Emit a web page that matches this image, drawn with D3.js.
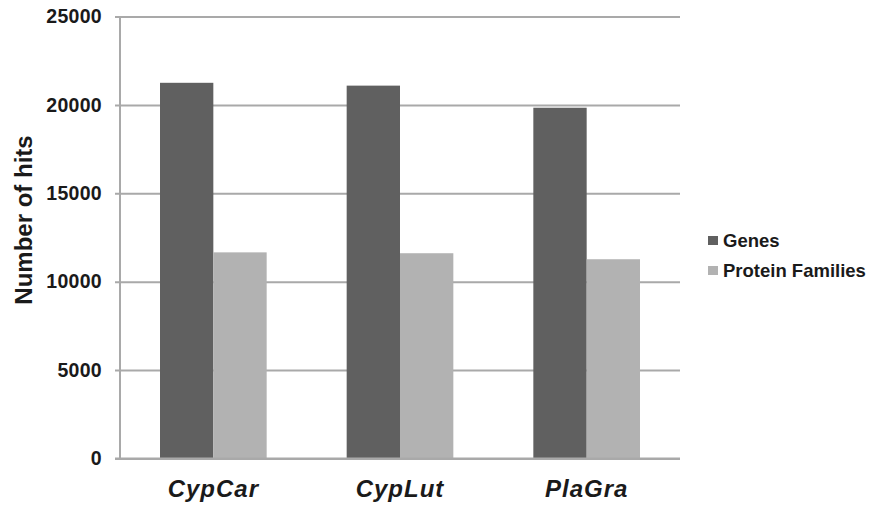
<!DOCTYPE html>
<html>
<head>
<meta charset="utf-8">
<script src="https://cdn.jsdelivr.net/npm/d3@7"></script>
<style>
  html, body { margin: 0; padding: 0; background: #ffffff; }
  svg { display: block; font-family: "Liberation Sans", Arial, sans-serif; }
</style>
</head>
<body>
<svg id="chart" width="872" height="511"></svg>
<script>
// Hit counts per genome
const categories = ["CypCar", "CypLut", "PlaGra"];
const seriesNames = ["Genes", "Protein Families"];
const genes = [21250, 21090, 19840];
const proteinFamilies = [11660, 11610, 11270];
const yTicks = [0, 5000, 10000, 15000, 20000, 25000];
const seriesColors = ["#606060", "#b2b2b2"];

const svg = d3.select("#chart");
const plot = { left: 120, right: 680, top: 16.5, bottom: 458.5 };

const x0 = d3.scaleBand()
  .domain(categories)
  .range([plot.left, plot.right])
  .paddingInner(0)
  .paddingOuter(0);

const x1 = d3.scaleBand()
  .domain(seriesNames)
  .range([0, x0.bandwidth()])
  .paddingInner(0)
  .paddingOuter(0.75);

const y = d3.scaleLinear()
  .domain([0, 25000])
  .range([plot.bottom, plot.top]);

// Horizontal gridlines and tick labels
const yAxis = d3.axisLeft(y)
  .tickValues(yTicks)
  .tickSize(-(plot.right - plot.left))
  .tickPadding(18)
  .tickFormat(d3.format("d"));

const gAxis = svg.append("g")
  .attr("transform", `translate(${plot.left},0)`)
  .call(yAxis);
gAxis.select(".domain").remove();
gAxis.selectAll(".tick line")
  .attr("x1", -5)
  .attr("stroke", "#a9a9a9")
  .attr("stroke-width", 2);
gAxis.selectAll(".tick text")
  .attr("fill", "#1a1a1a")
  .style("font-size", "19.5px")
  .style("font-weight", "bold")
  .style("letter-spacing", "0.3px");

// Vertical axis line
svg.append("line")
  .attr("x1", plot.left).attr("x2", plot.left)
  .attr("y1", plot.top).attr("y2", plot.bottom)
  .attr("stroke", "#a9a9a9")
  .attr("stroke-width", 2);

// Bars
const rows = categories.map((c, i) => ({
  category: c,
  values: [
    { series: seriesNames[0], value: genes[i], color: seriesColors[0] },
    { series: seriesNames[1], value: proteinFamilies[i], color: seriesColors[1] }
  ]
}));

svg.append("g")
  .selectAll("g")
  .data(rows)
  .join("g")
  .attr("transform", d => `translate(${x0(d.category)},0)`)
  .selectAll("rect")
  .data(d => d.values)
  .join("rect")
  .attr("x", d => x1(d.series))
  .attr("width", x1.bandwidth())
  .attr("y", d => y(d.value))
  .attr("height", d => y(0) - y(d.value))
  .attr("fill", d => d.color);

// Baseline drawn over bars
svg.append("line")
  .attr("x1", plot.left - 5).attr("x2", plot.right)
  .attr("y1", y(0)).attr("y2", y(0))
  .attr("stroke", "#a9a9a9")
  .attr("stroke-width", 2);

// Category labels
svg.append("g")
  .selectAll("text")
  .data(categories)
  .join("text")
  .attr("x", d => x0(d) + x0.bandwidth() / 2)
  .attr("y", 497)
  .attr("text-anchor", "middle")
  .attr("fill", "#1a1a1a")
  .style("font-size", "24px")
  .style("font-style", "italic")
  .style("font-weight", "bold")
  .style("letter-spacing", "1px")
  .text(d => d);

// Y axis title
svg.append("text")
  .attr("transform", "translate(32,220) rotate(-90)")
  .attr("text-anchor", "middle")
  .attr("fill", "#1a1a1a")
  .style("font-size", "24px")
  .style("font-weight", "bold")
  .text("Number of hits");

// Legend
const legend = svg.append("g")
  .selectAll("g")
  .data(seriesNames)
  .join("g")
  .attr("transform", (d, i) => `translate(708,${236 + i * 30})`);
legend.append("rect")
  .attr("width", 10)
  .attr("height", 9)
  .attr("fill", (d, i) => seriesColors[i]);
legend.append("text")
  .attr("x", 15)
  .attr("y", 11)
  .attr("fill", "#1a1a1a")
  .style("font-size", "18.5px")
  .style("font-weight", "bold")
  .text(d => d);
</script>
</body>
</html>
